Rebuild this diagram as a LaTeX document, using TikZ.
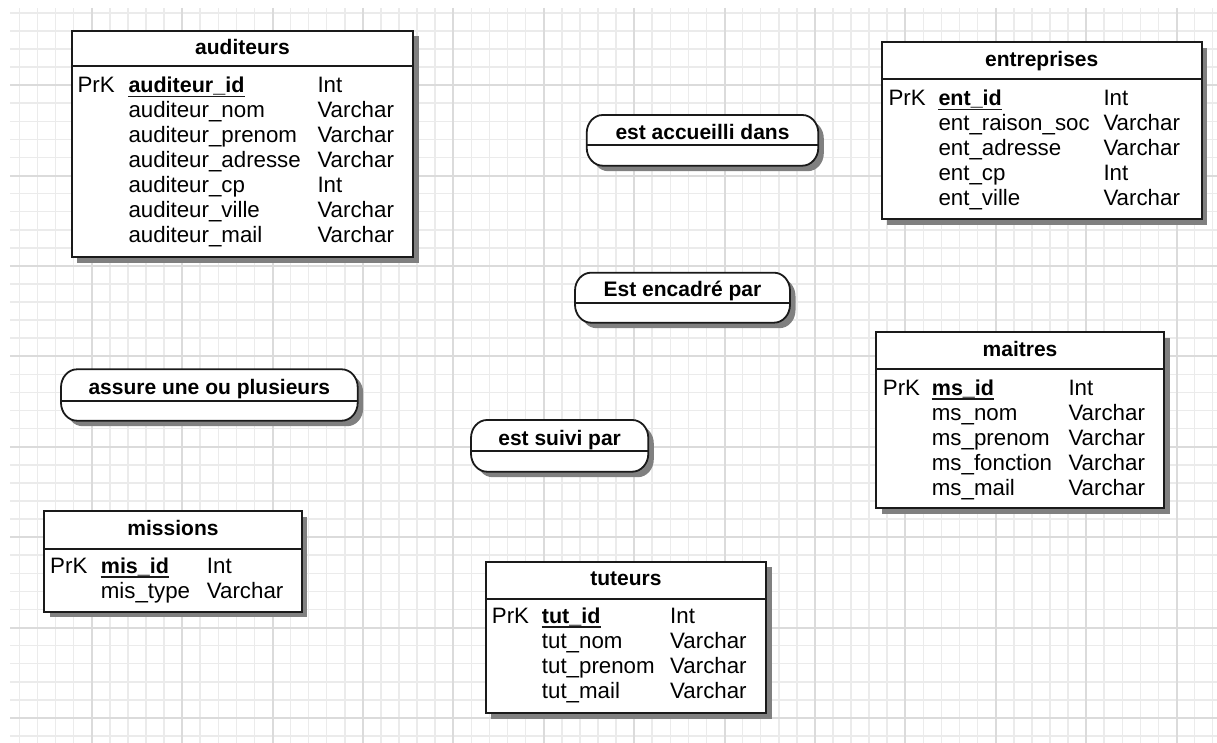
\documentclass[tikz,border=0pt]{standalone}
\usepackage{fontspec}
\setmainfont{Liberation Sans}
\usetikzlibrary{shadows,fit}
\definecolor{gridminor}{HTML}{EBEBEB}
\definecolor{gridmajor}{HTML}{DBDBDB}
\definecolor{shadowgray}{HTML}{808080}
\definecolor{inkline}{HTML}{1A1A1A}
\tikzset{
  minorline/.style={draw=gridminor, line width=1.5pt},
  majorline/.style={draw=gridmajor, line width=2pt},
  entbox/.style={draw=inkline, line width=1.8pt, fill=white, inner sep=0pt,
    drop shadow={shadow xshift=5.5pt, shadow yshift=-5.5pt, fill=shadowgray, opacity=1}},
  relnode/.style={inner sep=0pt},
  relshadow/.style={fill=shadowgray, shift={(5.5,5.5)}},
  reloutline/.style={draw=inkline, line width=1.8pt, fill=white},
  sepline/.style={draw=inkline, line width=1.8pt},
  titletext/.style={anchor=base, inner sep=0pt, font=\fontsize{21}{25}\selectfont\bfseries},
  attrtext/.style={anchor=base west, inner sep=0pt, font=\fontsize{22.3}{25}\selectfont},
  pktext/.style={anchor=base west, inner sep=0pt, font=\fontsize{21.5}{25}\selectfont\bfseries},
  pkline/.style={draw=inkline, line width=1.8pt},
}
% #1 id, #2 name x, #3 baseline y, #4 name, #5 type x, #6 type
\newcommand{\ERfield}[6]{%
  \node[attrtext] (#1n) at (#2,#3) {#4};
  \node[attrtext] (#1t) at (#5,#3) {#6};}
% #1 id, #2 PrK x, #3 name x, #4 baseline y, #5 name, #6 type x, #7 type
\newcommand{\ERkey}[7]{%
  \node[attrtext] (#1k) at (#2,#4) {PrK};
  \node[pktext] (#1n) at (#3,#4) {#5};
  \node[attrtext] (#1t) at (#6,#4) {#7};
  \draw[pkline] ([yshift=-3.6pt]#1n.base west) -- ([yshift=-3.6pt]#1n.base east);}
% relationship outline: #1 options, #2 x1, #3 y1, #4 x2, #5 y2
\newcommand{\ERrelshape}[5]{%
  \path[#1] ({#2+16},#3) -- ({#4-16},#3)
    arc[start angle=90,end angle=0,x radius=16pt,y radius=18pt] -- (#4,{#5-18})
    arc[start angle=0,end angle=-90,x radius=16pt,y radius=18pt] -- ({#2+16},#5)
    arc[start angle=270,end angle=180,x radius=16pt,y radius=18pt] -- (#2,{#3+18})
    arc[start angle=180,end angle=90,x radius=16pt,y radius=18pt] -- cycle;}
% #1 id, #2 x1, #3 y1, #4 x2, #5 y2, #6 middle line y, #7 text baseline, #8 text
\newcommand{\ERrel}[8]{%
  \ERrelshape{relshadow}{#2}{#3}{#4}{#5}
  \ERrelshape{reloutline}{#2}{#3}{#4}{#5}
  \node[relnode, fit={(#2,#3) (#4,#5)}] (#1) {};
  \draw[sepline] (#1.west |- 0,#6) -- (#1.east |- 0,#6);
  \node[titletext] (#1-title) at ({(#2+#4)/2},#7) {#8};}
\begin{document}
\begin{tikzpicture}[x=1pt,y=-1pt]
\useasboundingbox (0,0) rectangle (1217,743);
% grid
\begin{scope}
  \clip (10,8) rectangle (1217,743);
  \foreach \i in {0,...,67} \draw[minorline] ({1.3+18.08*\i},8) -- ({1.3+18.08*\i},743);
  \foreach \j in {0,...,41} \draw[minorline] (10,{-5.28+18.08*\j}) -- (1217,{-5.28+18.08*\j});
  \foreach \i in {0,...,13} \draw[majorline] ({1.3+90.4*\i},8) -- ({1.3+90.4*\i},743);
  \foreach \j in {0,...,8} \draw[majorline] (10,{-5.28+90.4*\j}) -- (1217,{-5.28+90.4*\j});
\end{scope}

% ---------- auditeurs
\node[entbox, fit={(71.7,30.7) (413.3,257.3)}] (auditeurs) {};
\draw[sepline] (auditeurs.west |- 0,66) -- (auditeurs.east |- 0,66);
\node[titletext] (auditeurs-title) at (242.5,55) {auditeurs};
\ERkey{a0}{77.3}{128.3}{93}{auditeur\_id}{317.3}{Int}
\ERfield{a1}{128.3}{118}{auditeur\_nom}{317.3}{Varchar}
\ERfield{a2}{128.3}{143}{auditeur\_prenom}{317.3}{Varchar}
\ERfield{a3}{128.3}{168}{auditeur\_adresse}{317.3}{Varchar}
\ERfield{a4}{128.3}{193}{auditeur\_cp}{317.3}{Int}
\ERfield{a5}{128.3}{218}{auditeur\_ville}{317.3}{Varchar}
\ERfield{a6}{128.3}{243}{auditeur\_mail}{317.3}{Varchar}

% ---------- entreprises
\node[entbox, fit={(881.7,42.3) (1201.7,219.3)}] (entreprises) {};
\draw[sepline] (entreprises.west |- 0,79.3) -- (entreprises.east |- 0,79.3);
\node[titletext] (entreprises-title) at (1041.7,66.7) {entreprises};
\ERkey{e0}{888.3}{938.3}{106}{ent\_id}{1103.3}{Int}
\ERfield{e1}{938.3}{131}{ent\_raison\_soc}{1103.3}{Varchar}
\ERfield{e2}{938.3}{156}{ent\_adresse}{1103.3}{Varchar}
\ERfield{e3}{938.3}{181}{ent\_cp}{1103.3}{Int}
\ERfield{e4}{938.3}{206}{ent\_ville}{1103.3}{Varchar}

% ---------- maitres
\node[entbox, fit={(876,332.3) (1164,508.3)}] (maitres) {};
\draw[sepline] (maitres.west |- 0,369.3) -- (maitres.east |- 0,369.3);
\node[titletext] (maitres-title) at (1020,356.7) {maitres};
\ERkey{m0}{882.7}{931.7}{395}{ms\_id}{1068.3}{Int}
\ERfield{m1}{931.7}{420}{ms\_nom}{1068.3}{Varchar}
\ERfield{m2}{931.7}{445}{ms\_prenom}{1068.3}{Varchar}
\ERfield{m3}{931.7}{470}{ms\_fonction}{1068.3}{Varchar}
\ERfield{m4}{931.7}{495}{ms\_mail}{1068.3}{Varchar}

% ---------- missions
\node[entbox, fit={(44.3,511) (301.7,611.7)}] (missions) {};
\draw[sepline] (missions.west |- 0,549) -- (missions.east |- 0,549);
\node[titletext] (missions-title) at (173,535.7) {missions};
\ERkey{i0}{50}{100.7}{573.3}{mis\_id}{206.7}{Int}
\ERfield{i1}{100.7}{598.3}{mis\_type}{206.7}{Varchar}

% ---------- tuteurs
\node[entbox, fit={(485.7,561.7) (766,713.3)}] (tuteurs) {};
\draw[sepline] (tuteurs.west |- 0,599.3) -- (tuteurs.east |- 0,599.3);
\node[titletext] (tuteurs-title) at (625.85,585.7) {tuteurs};
\ERkey{t0}{491.7}{541.7}{623.3}{tut\_id}{670}{Int}
\ERfield{t1}{541.7}{648.3}{tut\_nom}{670}{Varchar}
\ERfield{t2}{541.7}{673.3}{tut\_prenom}{670}{Varchar}
\ERfield{t3}{541.7}{698.3}{tut\_mail}{670}{Varchar}

% ---------- relationships
\ERrel{rAccueil}{586.7}{115}{818.3}{165.7}{145}{139.3}{est accueilli dans}
\ERrel{rEncadre}{575}{272.7}{790}{322.7}{303.3}{296.7}{Est encadré par}
\ERrel{rAssure}{61}{369.3}{357.7}{420.7}{401}{394}{assure une ou plusieurs}
\ERrel{rSuivi}{471}{420}{648.3}{471.7}{451}{445}{est suivi par}
\end{tikzpicture}
\end{document}
